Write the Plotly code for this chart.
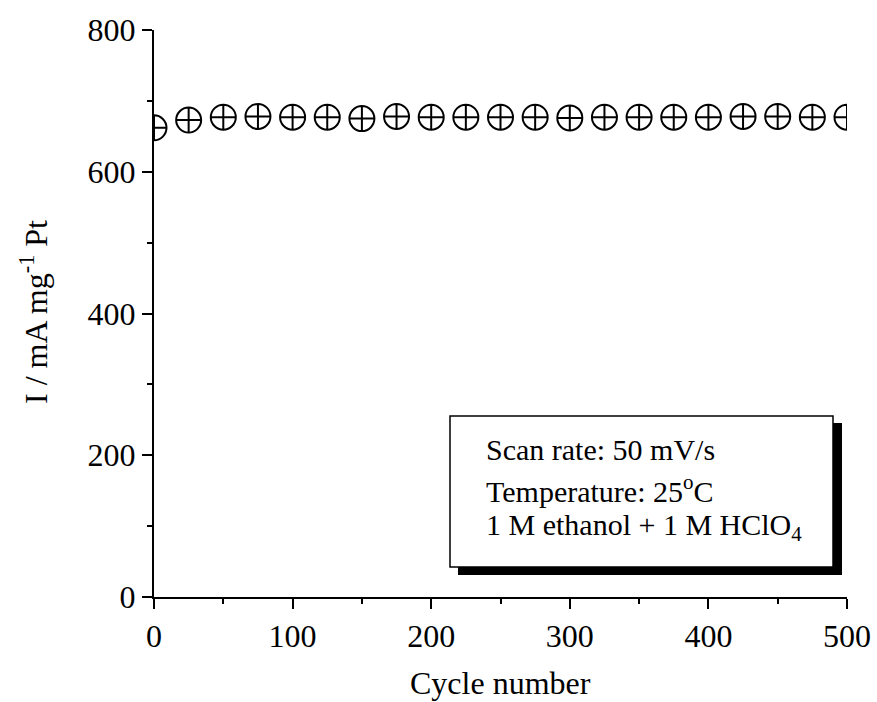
import plotly.graph_objects as go

cycles = [0, 25, 50, 75, 100, 125, 150, 175, 200, 225, 250, 275, 300, 325, 350, 375, 400, 425, 450, 475, 500]
current = [662, 673, 677, 678, 677, 677, 675, 678, 677, 677, 677, 677, 676, 677, 677, 677, 677, 678, 678, 677, 677]

x_ticks = [0, 100, 200, 300, 400, 500]
y_ticks = [0, 200, 400, 600, 800]

W, H = 877, 702
L, R, T, B = 154, 30, 30, 105
pw, ph = W - L - R, H - T - B

def px(x):
    return (x - L) / pw

def py(y):
    return (H - B - y) / ph

FONT = "Liberation Serif, Times New Roman, serif"

fig = go.Figure()
fig.add_trace(go.Scatter(
    x=cycles, y=current, mode="markers",
    marker=dict(symbol="circle-cross-open", size=25, color="black", line=dict(width=2, color="black")),
    cliponaxis=True, showlegend=False,
))

axis_common = dict(
    showgrid=False, zeroline=False, showline=True, linecolor="black", linewidth=2,
    ticks="outside", ticklen=10, tickwidth=2, tickcolor="black", automargin=False,
    tickfont=dict(family=FONT, size=32, color="black"),
)

fig.update_xaxes(range=[0, 500], tickvals=x_ticks, ticktext=[str(v) for v in x_ticks],
                 minor=dict(dtick=50, ticklen=5, tickwidth=2, tickcolor="black", ticks="outside"),
                 **axis_common)
fig.update_yaxes(range=[0, 800], tickvals=y_ticks, ticktext=[str(v) for v in y_ticks],
                 minor=dict(dtick=100, ticklen=5, tickwidth=2, tickcolor="black", ticks="outside"),
                 **axis_common)

shapes = [
    dict(type="rect", xref="paper", yref="paper", x0=px(458), x1=px(842), y0=py(575), y1=py(423),
         fillcolor="black", line=dict(width=0)),
    dict(type="rect", xref="paper", yref="paper", x0=px(450), x1=px(833), y0=py(567), y1=py(416),
         fillcolor="white", line=dict(width=1.5, color="black")),
]

box_font = dict(family=FONT, size=30, color="black")
annotations = [
    dict(text="Scan rate: 50 mV/s", x=px(484), y=py(449), xref="paper", yref="paper",
         xanchor="left", yanchor="middle", showarrow=False, font=box_font),
    dict(text="Temperature: 25<sup>o</sup>C", x=px(484), y=py(489), xref="paper", yref="paper",
         xanchor="left", yanchor="middle", showarrow=False, font=box_font),
    dict(text="1 M ethanol + 1 M HClO<sub>4</sub>", x=px(484), y=py(527), xref="paper", yref="paper",
         xanchor="left", yanchor="middle", showarrow=False, font=box_font),
    dict(text="Cycle number", x=px(500), y=py(683), xref="paper", yref="paper",
         xanchor="center", yanchor="middle", showarrow=False, font=dict(family=FONT, size=32, color="black")),
    dict(text="I / mA mg<sup>-1</sup> Pt", x=px(34), y=py(312), xref="paper", yref="paper",
         xanchor="center", yanchor="middle", showarrow=False, textangle=-90,
         font=dict(family=FONT, size=32, color="black")),
]

fig.update_layout(
    width=W, height=H, margin=dict(l=L, r=R, t=T, b=B), autosize=False,
    paper_bgcolor="white", plot_bgcolor="white",
    shapes=shapes, annotations=annotations,
)

fig.write_html(
    "out.html",
    config={"responsive": False, "displayModeBar": False},
    post_script="document.documentElement.style.overflow='hidden';document.body.style.margin='0';document.body.style.overflow='hidden';",
)
